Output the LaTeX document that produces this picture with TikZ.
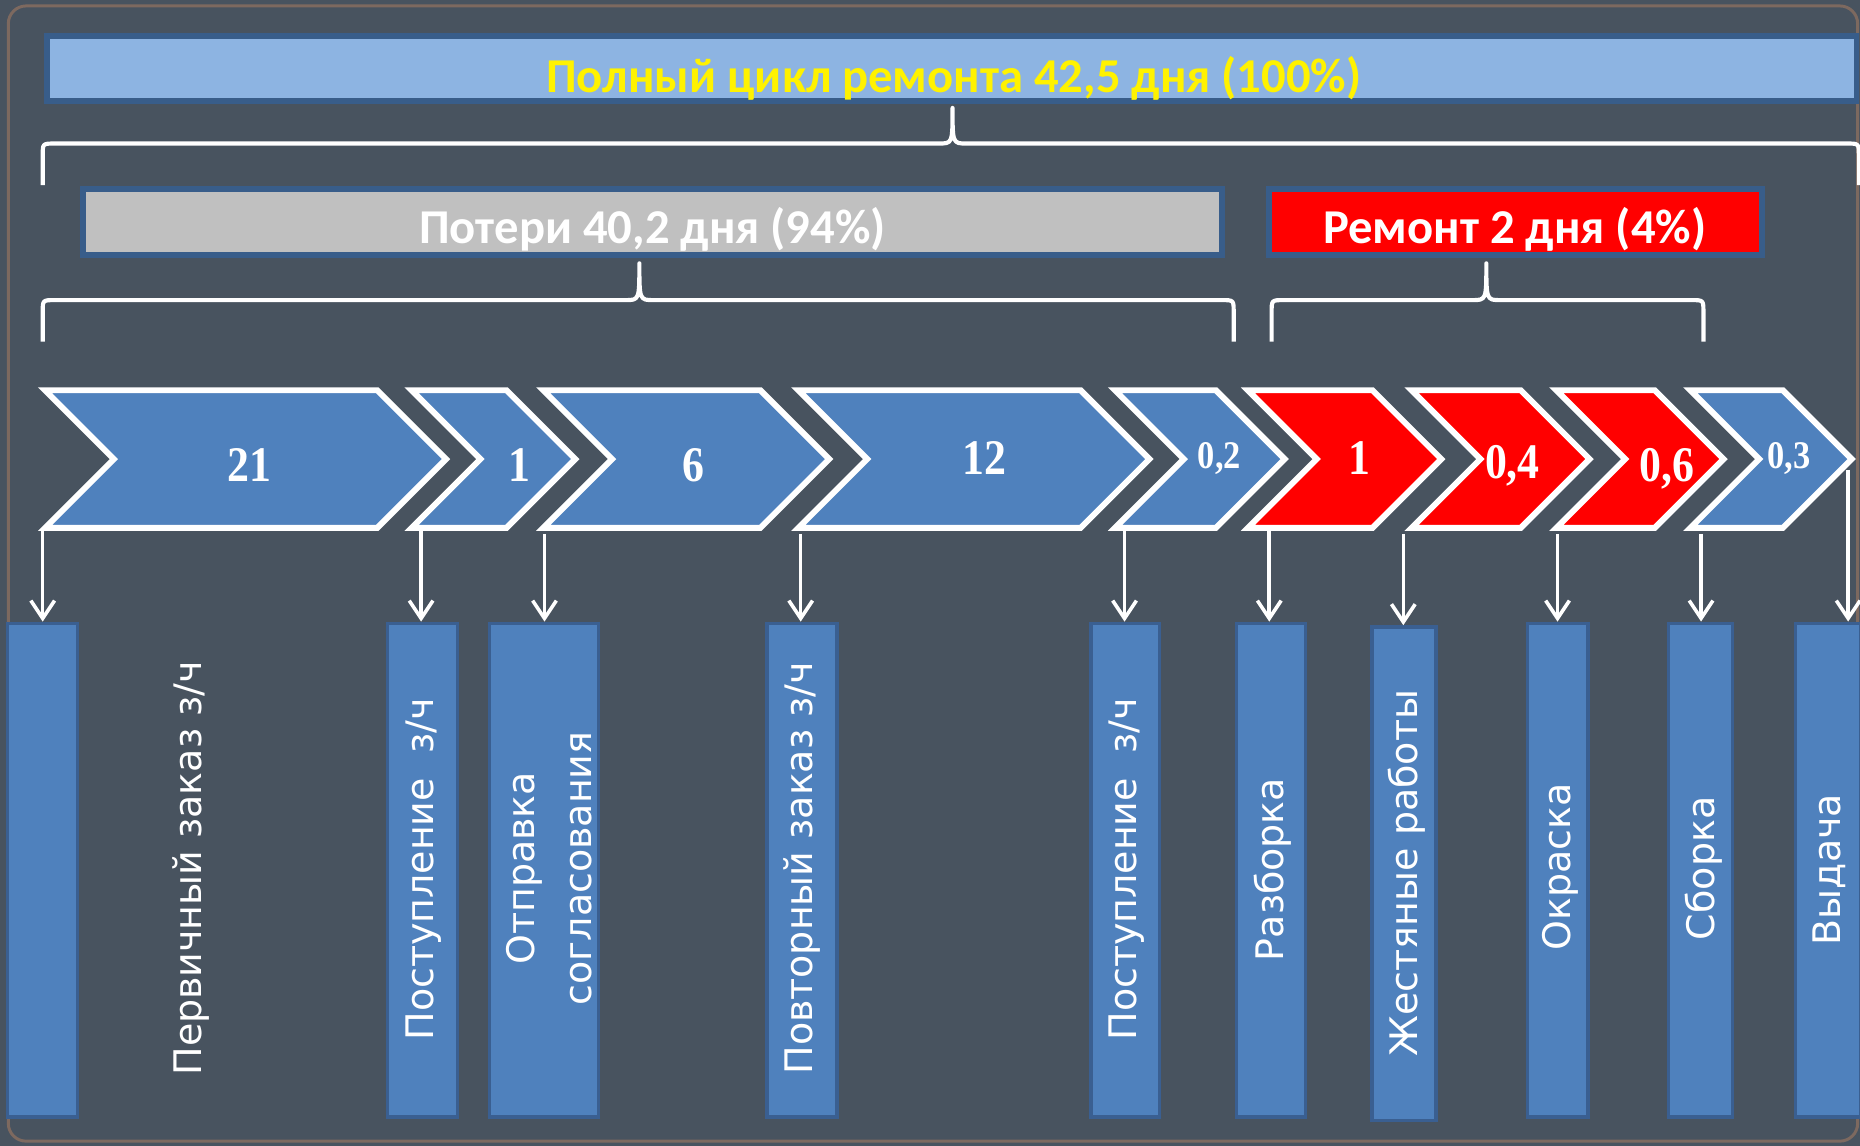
\documentclass[tikz,border=0pt]{standalone}
\usepackage{fontspec}
\usepackage{tikz}
\usetikzlibrary{arrows.meta}
\newfontfamily\barfont{Carlito}
\newfontfamily\numfont[FakeStretch=0.88]{Liberation Serif}
\newfontfamily\stepfont{DejaVu Sans}
\definecolor{slate}{RGB}{72,83,95}
\definecolor{framebrown}{RGB}{125,105,95}
\definecolor{topblue}{RGB}{141,180,226}
\definecolor{baredge}{RGB}{56,93,138}
\definecolor{lossgrey}{RGB}{192,192,192}
\definecolor{chevblue}{RGB}{79,129,189}
\definecolor{boxedge}{RGB}{58,95,145}

\begin{document}
\begin{tikzpicture}[x=1pt,y=-1pt,
                    bar/.style={draw=baredge,line width=5pt},
                    bartext/.style={font=\barfont\bfseries\fontsize{41}{41}\selectfont,
                                    anchor=base,inner sep=0pt},
                    curly/.style={draw=white,line width=3.5pt,line join=round},
                    chev/.style={draw=white,line width=5pt,fill=chevblue},
                    num/.style={font=\numfont\bfseries\fontsize{42}{42}\selectfont,
                                text=white,anchor=base,inner sep=0pt},
                    smallnum/.style={num,font=\numfont\bfseries\fontsize{33}{33}\selectfont},
                    stepbox/.style={rectangle,fill=chevblue,draw=boxedge,line width=3pt,
                                    minimum height=416pt,inner sep=0pt},
                    steptext/.style={font=\stepfont\fontsize{32}{48}\selectfont,
                                     text=white,rotate=90,align=center,inner sep=0pt},
                    arr/.style={draw=white,line width=3pt,
                                -{Straight Barb[length=15pt,width=20pt]}}]
 \useasboundingbox (0,0) rectangle (1568,966);
 \fill[slate] (0,0) rectangle (1568,966);
 \draw[framebrown,line width=2.5pt,rounded corners=15pt] (7,5) rectangle (1566,962);

 \draw[bar,fill=topblue] (40,30) rectangle (1565,85);
 \node[bartext,text=yellow] (full) at (804,78) {Полный цикл ремонта 42,5 дня (100\%)};
 \draw[curly] (36,156) -- (36,131) .. controls (36,121) .. (46,121) -- (791,121)
   .. controls (803,121) .. (803,91) .. controls (803,121) .. (815,121) -- (1557,121)
   .. controls (1567,121) .. (1567,131) -- (1567,156);

 \draw[bar,fill=lossgrey] (70,159) rectangle (1030,215);
 \node[bartext,text=white] (loss) at (550,205) {Потери 40,2 дня (94\%)};
 \draw[bar,fill=red] (1070,159) rectangle (1485,215);
 \node[bartext,text=white] (repair) at (1277,205) {Ремонт 2 дня (4\%)};
 \draw[curly] (36,288) -- (36,263) .. controls (36,253) .. (46,253) -- (527,253)
   .. controls (539,253) .. (539,222) .. controls (539,253) .. (551,253) -- (1030,253)
   .. controls (1040,253) .. (1040,263) -- (1040,288);
 \draw[curly] (1072,288) -- (1072,263) .. controls (1072,253) .. (1082,253) -- (1241,253)
   .. controls (1253,253) .. (1253,222) .. controls (1253,253) .. (1265,253) -- (1426,253)
   .. controls (1436,253) .. (1436,263) -- (1436,288);

 \filldraw[chev] (38,329) -- (318,329) -- (376,387) -- (318,445) -- (38,445) -- (96,387) -- cycle;
 \filldraw[chev] (347,329) -- (427,329) -- (485,387) -- (427,445) -- (347,445) -- (405,387) -- cycle;
 \filldraw[chev] (458,329) -- (641,329) -- (699,387) -- (641,445) -- (458,445) -- (516,387) -- cycle;
 \filldraw[chev] (673,329) -- (911,329) -- (969,387) -- (911,445) -- (673,445) -- (731,387) -- cycle;
 \filldraw[chev] (940,329) -- (1025,329) -- (1083,387) -- (1025,445) -- (940,445) -- (998,387) -- cycle;
 \filldraw[chev,fill=red] (1052,329) -- (1157,329) -- (1215,387) -- (1157,445) -- (1052,445) -- (1110,387) -- cycle;
 \filldraw[chev,fill=red] (1190,329) -- (1282,329) -- (1340,387) -- (1282,445) -- (1190,445) -- (1248,387) -- cycle;
 \filldraw[chev,fill=red] (1312,329) -- (1395,329) -- (1453,387) -- (1395,445) -- (1312,445) -- (1370,387) -- cycle;
 \filldraw[chev] (1425,329) -- (1503,329) -- (1561,387) -- (1503,445) -- (1425,445) -- (1483,387) -- cycle;

 \node[num] (d1) at (210,406) {21};
 \node[num] (d2) at (438,406) {1};
 \node[num] (d3) at (585,406) {6};
 \node[num] (d4) at (830,400) {12};
 \node[smallnum] (d5) at (1028,395) {0,2};
 \node[num] (d6) at (1146,400) {1};
 \node[num] (d7) at (1275,403) {0,4};
 \node[num] (d8) at (1405,406) {0,6};
 \node[smallnum] (d9) at (1508,395) {0,3};

 \node[stepbox,minimum width=59pt] (b1) at (36,733.5) {};
 \node[stepbox,minimum width=59pt] (b2) at (356,733.5) {};
 \node[stepbox,minimum width=92pt] (b3) at (458.5,733.5) {};
 \node[stepbox,minimum width=59pt] (b4) at (676,733.5) {};
 \node[stepbox,minimum width=58pt] (b5) at (948.5,733.5) {};
 \node[stepbox,minimum width=58pt] (b6) at (1071.5,733.5) {};
 \node[stepbox,minimum width=54pt] (b7) at (1183.5,736.5) {};
 \node[stepbox,minimum width=51pt] (b8) at (1313,733.5) {};
 \node[stepbox,minimum width=54pt] (b9) at (1433.5,733.5) {};
 \node[stepbox,minimum width=55pt] (b10) at (1541,733.5) {};

 \node[steptext] (t1) at (161,732) {Первичный заказ з/ч};
 \node[steptext] (t2) at (357,733) {Поступление\ \ з/ч};
 \node[steptext] (t3) at (463,732) {Отправка\\согласования};
 \node[steptext] (t4) at (676,732) {Повторный заказ з/ч};
 \node[steptext] (t5) at (950,733) {Поступление\ \ з/ч};
 \node[steptext] (t6) at (1073,733) {Разборка};
 \node[steptext] (t7) at (1186,736) {Жестяные работы};
 \node[steptext] (t8) at (1315,731) {Окраска};
 \node[steptext] (t9) at (1436,732) {Сборка};
 \node[steptext] (t10) at (1542,733) {Выдача};

 \coordinate (s1) at (36,448);
 \coordinate (s2) at (355,448);
 \coordinate (s3) at (459,450);
 \coordinate (s4) at (675,450);
 \coordinate (s5) at (948,448);
 \coordinate (s6) at (1070,448);
 \coordinate (s7) at (1183,450);
 \coordinate (s8) at (1313,450);
 \coordinate (s9) at (1434,450);
 \coordinate (s10) at (1558,396);
 \draw[arr] (s1) -- (s1 |- b1.north);
 \draw[arr] (s2) -- (s2 |- b2.north);
 \draw[arr] (s3) -- (s3 |- b3.north);
 \draw[arr] (s4) -- (s4 |- b4.north);
 \draw[arr] (s5) -- (s5 |- b5.north);
 \draw[arr] (s6) -- (s6 |- b6.north);
 \draw[arr] (s7) -- (s7 |- b7.north);
 \draw[arr] (s8) -- (s8 |- b8.north);
 \draw[arr] (s9) -- (s9 |- b9.north);
 \draw[arr] (s10) -- (s10 |- b10.north);
\end{tikzpicture}
\end{document}
